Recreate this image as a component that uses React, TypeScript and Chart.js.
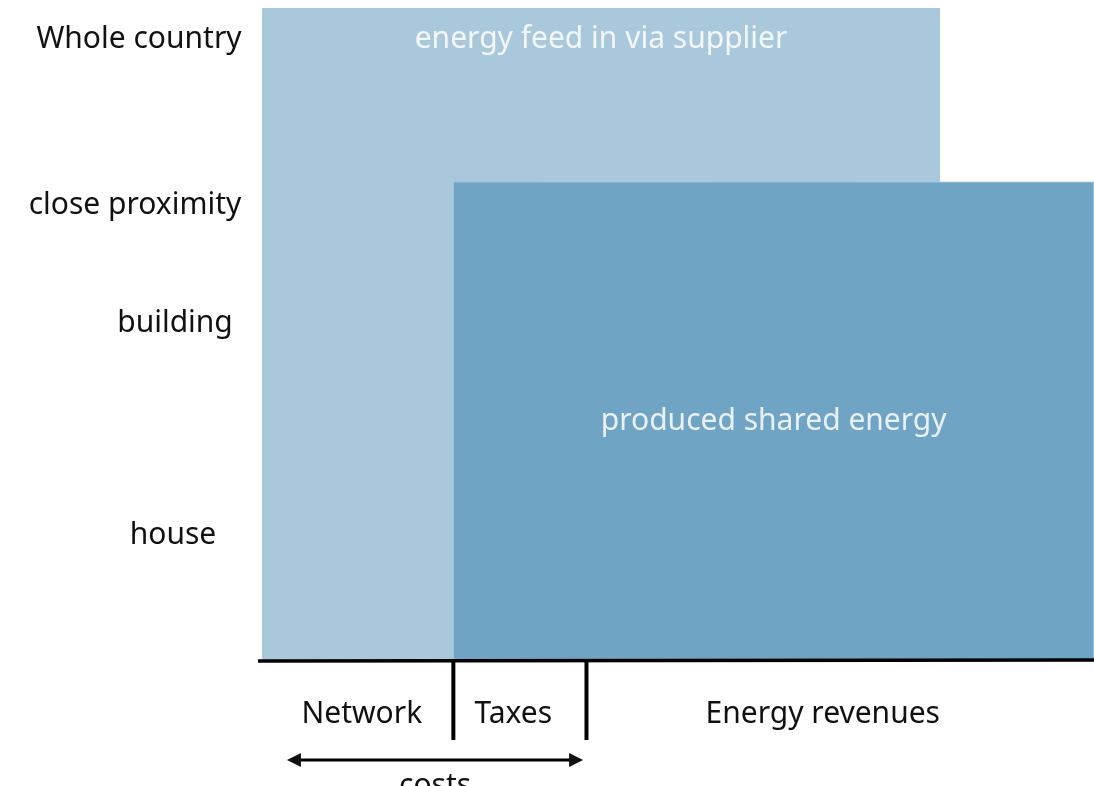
import React, { useEffect, useRef } from "react";
import { Chart, registerables } from "chart.js";

Chart.register(...registerables);

// Horizontal extent in "cost share" units (0..100), vertical in "scale" units (0..100)
const levelLabels = ["Whole country", "close proximity", "building", "house"];
const levelValues = [95.2, 69.7, 51.6, 19.1];

const feedInRect = { x0: 0, x1: 81.5, y1: 100 };
const sharedRect = { x0: 23, x1: 100, y1: 73.3 };

const costDividers = [23, 39];
const costLabels = ["Network", "Taxes", "Energy revenues"];
const costLabelValues = [12, 30.2, 67.4];
const costsRange = [3, 38.6];

const LIGHT = "#aac8dc";
const DARK = "#70a4c4";
const FONT = "'Noto Sans', 'Open Sans', sans-serif";

const rectPoints = (r: { x0: number; x1: number; y1: number }) => [
  { x: r.x0, y: 0 },
  { x: r.x0, y: r.y1 },
  { x: r.x1, y: r.y1 },
  { x: r.x1, y: 0 },
];

export default function App() {
  const ref = useRef<HTMLCanvasElement>(null);
  useEffect(() => {
    if (!ref.current) return;
    const labelX = [139, 135, 175, 173];
    const annot = {
      id: "annot",
      afterDatasetsDraw(chart: any) {
        const ctx = chart.ctx;
        const xs = chart.scales.x;
        const ys = chart.scales.y;
        const base = ys.getPixelForValue(0);
        ctx.save();
        // inner texts
        ctx.fillStyle = "rgba(255,255,255,0.85)";
        ctx.font = `30px ${FONT}`;
        ctx.textAlign = "center";
        ctx.textBaseline = "middle";
        ctx.fillText(
          "energy feed in via supplier",
          (xs.getPixelForValue(feedInRect.x0) + xs.getPixelForValue(feedInRect.x1)) / 2,
          ys.getPixelForValue(levelValues[0])
        );
        ctx.fillText(
          "produced shared energy",
          (xs.getPixelForValue(sharedRect.x0) + xs.getPixelForValue(sharedRect.x1)) / 2,
          (ys.getPixelForValue(0) + ys.getPixelForValue(sharedRect.y1)) / 2
        );
        // left labels
        ctx.fillStyle = "#111";
        levelLabels.forEach((l, i) => {
          ctx.fillText(l, labelX[i], ys.getPixelForValue(levelValues[i]));
        });
        // axis line
        ctx.strokeStyle = "#000";
        ctx.lineWidth = 3.5;
        ctx.beginPath();
        ctx.moveTo(xs.getPixelForValue(0) - 4, base + 1);
        ctx.lineTo(chart.width, base);
        ctx.stroke();
        // dividers
        ctx.lineWidth = 4;
        costDividers.forEach((d) => {
          const px = xs.getPixelForValue(d);
          ctx.beginPath();
          ctx.moveTo(px, base);
          ctx.lineTo(px, base + 80);
          ctx.stroke();
        });
        // cost labels
        costLabels.forEach((l, i) => {
          ctx.fillText(l, xs.getPixelForValue(costLabelValues[i]), base + 54);
        });
        // arrow
        const ax0 = xs.getPixelForValue(costsRange[0]);
        const ax1 = xs.getPixelForValue(costsRange[1]);
        const ay = base + 100;
        ctx.lineWidth = 3;
        ctx.beginPath();
        ctx.moveTo(ax0 + 8, ay);
        ctx.lineTo(ax1 - 8, ay);
        ctx.stroke();
        ctx.beginPath();
        ctx.moveTo(ax0, ay);
        ctx.lineTo(ax0 + 14, ay - 7);
        ctx.lineTo(ax0 + 14, ay + 7);
        ctx.closePath();
        ctx.fill();
        ctx.beginPath();
        ctx.moveTo(ax1, ay);
        ctx.lineTo(ax1 - 14, ay - 7);
        ctx.lineTo(ax1 - 14, ay + 7);
        ctx.closePath();
        ctx.fill();
        ctx.fillText("costs", (ax0 + ax1) / 2, ay + 26);
        ctx.restore();
      },
    };
    const chart = new Chart(ref.current, {
      type: "line",
      data: {
        datasets: [
          {
            label: "produced shared energy",
            data: rectPoints(sharedRect),
            backgroundColor: DARK,
            borderColor: "rgba(160,196,220,0.8)",
            borderWidth: 1,
            fill: "origin",
            pointRadius: 0,
            tension: 0,
            order: 0,
          },
          {
            label: "energy feed in via supplier",
            data: rectPoints(feedInRect),
            backgroundColor: LIGHT,
            borderWidth: 0,
            fill: "origin",
            pointRadius: 0,
            tension: 0,
            order: 1,
          },
        ],
      },
      options: {
        animation: false,
        responsive: false,
        maintainAspectRatio: false,
        layout: { padding: { left: 262, right: 0, top: 8, bottom: 126 } },
        scales: {
          x: { type: "linear", min: 0, max: 100, display: false },
          y: { type: "linear", min: 0, max: 100, display: false },
        },
        plugins: { legend: { display: false }, tooltip: { enabled: false } },
      },
      plugins: [annot],
    });
    return () => chart.destroy();
  }, []);
  return (
    <div style={{ position: "absolute", left: 0, top: 0, width: 1094, height: 786, background: "#fff" }}>
      <canvas ref={ref} width={1094} height={786} style={{ display: "block" }} />
    </div>
  );
}
